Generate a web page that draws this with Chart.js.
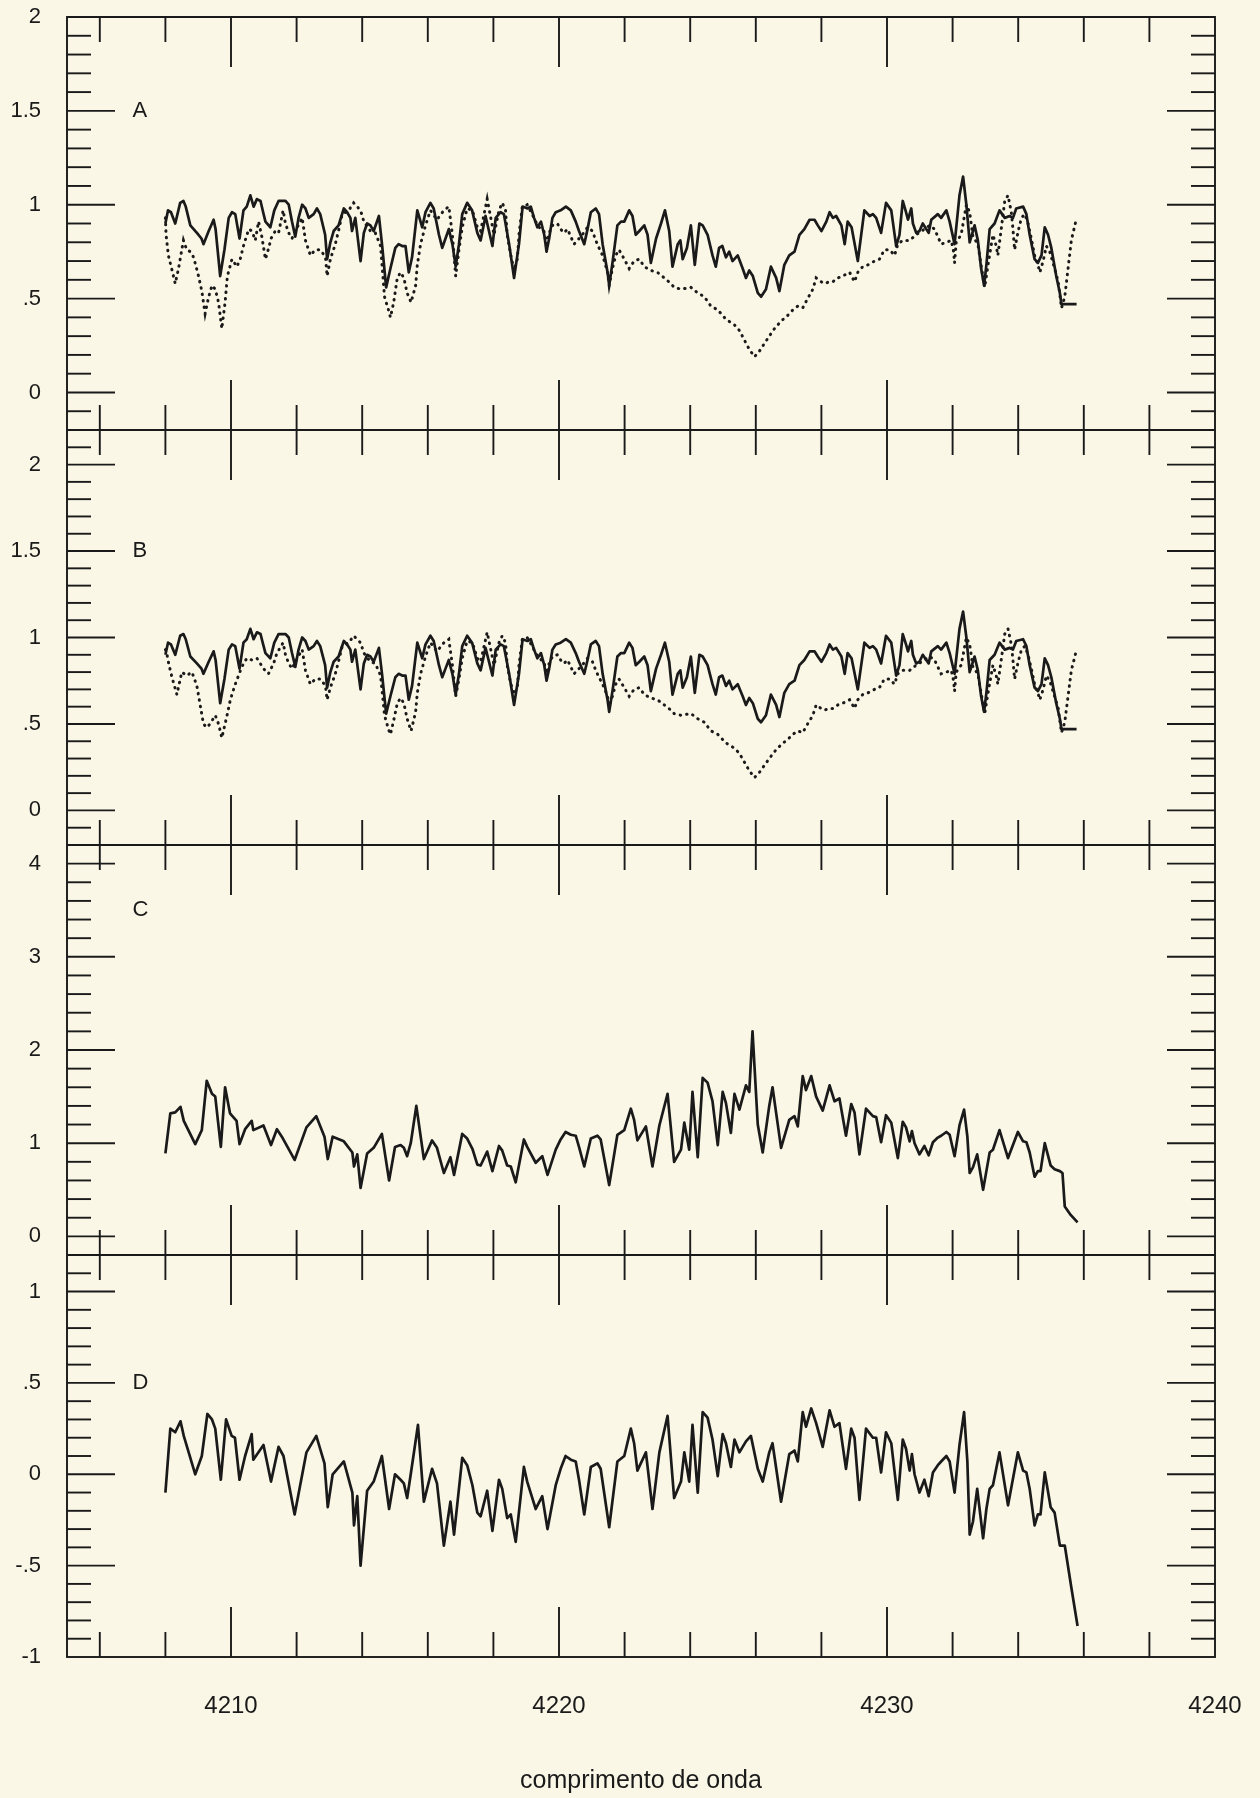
<!DOCTYPE html>
<html>
<head>
<meta charset="utf-8">
<script src="https://cdn.jsdelivr.net/npm/chart.js@4/dist/chart.umd.min.js"></script>
<style>
  html, body { margin: 0; padding: 0; background: #faf7e6; }
  canvas { display: block; }
</style>
</head>
<body>
<canvas id="spectra" width="1260" height="1798"></canvas>
<script>
// ---- Panel A: observed spectrum (solid) and model (dotted) ----
const waveA = [4208.00,4208.08,4208.17,4208.30,4208.45,4208.55,4208.62,4208.76,4208.96,4209.10,4209.16,4209.32,4209.47,4209.53,4209.67,4209.80,4209.93,4210.03,4210.13,4210.26,4210.38,4210.48,4210.59,4210.69,4210.79,4210.90,4210.98,4211.05,4211.20,4211.32,4211.45,4211.55,4211.66,4211.76,4211.86,4211.96,4212.06,4212.17,4212.27,4212.37,4212.52,4212.62,4212.72,4212.87,4212.93,4213.03,4213.13,4213.28,4213.44,4213.54,4213.64,4213.69,4213.79,4213.95,4214.05,4214.15,4214.25,4214.35,4214.51,4214.61,4214.73,4214.86,4215.01,4215.11,4215.22,4215.32,4215.42,4215.52,4215.68,4215.83,4215.93,4216.08,4216.18,4216.34,4216.44,4216.54,4216.64,4216.75,4216.85,4216.95,4217.05,4217.20,4217.35,4217.51,4217.61,4217.76,4217.97,4218.07,4218.22,4218.32,4218.48,4218.63,4218.78,4218.89,4219.04,4219.14,4219.24,4219.34,4219.45,4219.55,4219.62,4219.70,4219.80,4219.90,4220.05,4220.21,4220.36,4220.51,4220.61,4220.77,4220.87,4220.97,4221.12,4221.22,4221.33,4221.48,4221.53,4221.63,4221.78,4221.89,4221.99,4222.14,4222.24,4222.34,4222.45,4222.60,4222.70,4222.80,4222.96,4223.11,4223.23,4223.36,4223.46,4223.62,4223.70,4223.77,4223.90,4224.02,4224.14,4224.28,4224.38,4224.53,4224.68,4224.78,4224.88,4224.98,4225.09,4225.19,4225.29,4225.45,4225.60,4225.70,4225.80,4225.91,4226.06,4226.16,4226.31,4226.46,4226.62,4226.72,4226.87,4227.02,4227.18,4227.33,4227.48,4227.64,4227.79,4227.89,4228.00,4228.15,4228.25,4228.35,4228.45,4228.61,4228.71,4228.80,4228.92,4229.11,4229.31,4229.47,4229.57,4229.67,4229.82,4229.97,4230.13,4230.28,4230.38,4230.48,4230.58,4230.64,4230.74,4230.79,4230.89,4230.99,4231.09,4231.27,4231.35,4231.55,4231.65,4231.81,4231.91,4232.06,4232.21,4232.32,4232.42,4232.52,4232.67,4232.77,4232.87,4232.96,4233.03,4233.13,4233.28,4233.43,4233.59,4233.74,4233.84,4233.94,4234.15,4234.25,4234.35,4234.50,4234.60,4234.71,4234.81,4234.91,4235.01,4235.16,4235.27,4235.32,4235.78];
const fluxA = [0.90,0.97,0.96,0.90,1.01,1.02,0.99,0.89,0.85,0.82,0.79,0.86,0.92,0.87,0.62,0.76,0.93,0.96,0.95,0.82,0.97,0.99,1.05,0.99,1.03,1.02,0.96,0.91,0.88,0.97,1.02,1.02,1.02,1.00,0.91,0.83,0.93,1.00,0.98,0.93,0.95,0.98,0.95,0.84,0.71,0.80,0.86,0.89,0.98,0.96,0.93,0.86,0.93,0.70,0.85,0.90,0.89,0.86,0.94,0.78,0.56,0.66,0.77,0.79,0.78,0.78,0.64,0.72,0.97,0.88,0.96,1.01,0.98,0.84,0.77,0.82,0.87,0.79,0.67,0.79,0.95,1.01,0.97,0.85,0.81,0.94,0.78,0.93,0.96,0.95,0.79,0.61,0.79,0.99,0.98,0.99,0.93,0.88,0.91,0.84,0.75,0.82,0.93,0.96,0.97,0.99,0.97,0.91,0.86,0.79,0.87,0.96,0.98,0.95,0.79,0.64,0.57,0.69,0.89,0.91,0.91,0.97,0.94,0.84,0.86,0.89,0.84,0.69,0.82,0.90,0.97,0.86,0.67,0.79,0.81,0.71,0.77,0.89,0.68,0.90,0.89,0.84,0.73,0.67,0.77,0.78,0.72,0.75,0.70,0.73,0.66,0.61,0.65,0.62,0.53,0.51,0.55,0.67,0.61,0.54,0.68,0.73,0.75,0.84,0.87,0.92,0.92,0.89,0.86,0.91,0.96,0.93,0.94,0.89,0.79,0.91,0.88,0.70,0.97,0.94,0.95,0.93,0.85,1.01,0.97,0.78,0.84,1.02,0.96,0.92,0.98,0.90,0.85,0.86,0.90,0.85,0.92,0.95,0.93,0.97,0.91,0.79,1.05,1.15,1.00,0.80,0.89,0.81,0.66,0.57,0.68,0.87,0.90,0.97,0.93,0.94,0.93,0.98,0.99,0.95,0.84,0.71,0.69,0.73,0.88,0.84,0.77,0.62,0.53,0.47,0.47];

const waveAd = [4208.00,4208.02,4208.09,4208.19,4208.30,4208.40,4208.50,4208.55,4208.65,4208.76,4208.86,4209.01,4209.11,4209.21,4209.32,4209.42,4209.52,4209.62,4209.72,4209.82,4209.89,4210.03,4210.18,4210.28,4210.38,4210.54,4210.64,4210.74,4210.84,4210.94,4211.05,4211.15,4211.22,4211.35,4211.45,4211.59,4211.66,4211.76,4211.86,4212.02,4212.17,4212.27,4212.42,4212.57,4212.73,4212.88,4212.93,4213.03,4213.18,4213.29,4213.39,4213.59,4213.74,4213.95,4214.05,4214.25,4214.40,4214.56,4214.68,4214.80,4214.86,4214.96,4215.07,4215.17,4215.27,4215.37,4215.49,4215.63,4215.68,4215.78,4215.93,4216.08,4216.28,4216.49,4216.64,4216.75,4216.85,4216.95,4217.05,4217.20,4217.36,4217.51,4217.61,4217.81,4217.92,4218.02,4218.17,4218.27,4218.37,4218.42,4218.52,4218.63,4218.73,4218.78,4218.88,4219.03,4219.18,4219.29,4219.39,4219.54,4219.62,4219.70,4219.80,4219.95,4220.05,4220.15,4220.26,4220.36,4220.46,4220.61,4220.71,4220.87,4221.02,4221.12,4221.22,4221.33,4221.48,4221.53,4221.63,4221.73,4221.83,4221.99,4222.14,4222.29,4222.45,4222.60,4222.80,4223.00,4223.21,4223.41,4223.51,4223.72,4224.02,4224.23,4224.43,4224.63,4224.84,4225.09,4225.35,4225.50,4225.65,4225.80,4225.96,4226.11,4226.26,4226.41,4226.57,4226.77,4226.97,4227.13,4227.28,4227.43,4227.58,4227.74,4227.84,4227.99,4228.09,4228.25,4228.35,4228.50,4228.65,4228.86,4229.01,4229.11,4229.26,4229.42,4229.62,4229.77,4229.92,4230.08,4230.23,4230.33,4230.48,4230.69,4230.89,4231.14,4231.30,4231.45,4231.65,4231.81,4231.96,4232.03,4232.06,4232.11,4232.26,4232.42,4232.52,4232.62,4232.77,4232.93,4232.98,4233.08,4233.23,4233.33,4233.38,4233.49,4233.59,4233.69,4233.79,4233.84,4233.89,4234.00,4234.10,4234.20,4234.30,4234.40,4234.50,4234.60,4234.66,4234.76,4234.86,4234.96,4235.11,4235.22,4235.32,4235.42,4235.52,4235.62,4235.78];
const fluxAd = [0.93,0.84,0.73,0.66,0.58,0.66,0.76,0.81,0.76,0.75,0.72,0.62,0.54,0.42,0.51,0.57,0.55,0.48,0.34,0.48,0.62,0.71,0.67,0.71,0.78,0.87,0.86,0.81,0.91,0.83,0.71,0.77,0.82,0.86,0.85,0.97,0.90,0.85,0.82,0.88,0.93,0.81,0.73,0.76,0.76,0.72,0.62,0.71,0.79,0.87,0.95,0.97,1.01,0.97,0.91,0.86,0.85,0.78,0.51,0.44,0.40,0.48,0.61,0.64,0.61,0.53,0.48,0.57,0.68,0.79,0.89,0.97,0.92,0.97,0.99,0.84,0.62,0.76,0.88,0.98,0.97,0.88,0.86,1.03,0.93,0.84,0.97,1.01,0.97,0.84,0.74,0.65,0.71,0.84,0.99,1.00,0.95,0.91,0.88,0.86,0.79,0.85,0.89,0.90,0.87,0.85,0.87,0.83,0.79,0.82,0.84,0.88,0.86,0.81,0.77,0.73,0.64,0.57,0.66,0.73,0.76,0.71,0.66,0.70,0.71,0.67,0.65,0.64,0.61,0.58,0.56,0.55,0.56,0.53,0.51,0.46,0.44,0.39,0.36,0.33,0.28,0.23,0.19,0.22,0.26,0.30,0.34,0.38,0.41,0.44,0.46,0.45,0.50,0.55,0.61,0.59,0.58,0.59,0.59,0.61,0.62,0.64,0.59,0.64,0.67,0.68,0.70,0.71,0.76,0.76,0.73,0.79,0.81,0.81,0.84,0.87,0.89,0.87,0.79,0.80,0.81,0.75,0.69,0.80,0.84,1.00,0.96,0.83,0.79,0.61,0.56,0.68,0.84,0.78,0.73,0.88,1.02,1.05,0.96,0.87,0.76,0.86,0.93,0.95,0.90,0.82,0.73,0.68,0.64,0.70,0.78,0.75,0.66,0.59,0.45,0.51,0.66,0.81,0.93];

// ---- Panel B: same observed spectrum, second model (dotted) ----
const waveB = [4208.00,4208.08,4208.17,4208.30,4208.45,4208.55,4208.62,4208.76,4208.96,4209.10,4209.16,4209.32,4209.47,4209.53,4209.67,4209.80,4209.93,4210.03,4210.13,4210.26,4210.38,4210.48,4210.59,4210.69,4210.79,4210.90,4210.98,4211.05,4211.20,4211.32,4211.45,4211.55,4211.66,4211.76,4211.86,4211.96,4212.06,4212.17,4212.27,4212.37,4212.52,4212.62,4212.72,4212.87,4212.93,4213.03,4213.13,4213.28,4213.44,4213.54,4213.64,4213.69,4213.79,4213.95,4214.05,4214.15,4214.25,4214.35,4214.51,4214.61,4214.73,4214.86,4215.01,4215.11,4215.22,4215.32,4215.42,4215.52,4215.68,4215.83,4215.93,4216.08,4216.18,4216.34,4216.44,4216.54,4216.64,4216.75,4216.85,4216.95,4217.05,4217.20,4217.35,4217.51,4217.61,4217.76,4217.97,4218.07,4218.22,4218.32,4218.48,4218.63,4218.78,4218.89,4219.04,4219.14,4219.24,4219.34,4219.45,4219.55,4219.62,4219.70,4219.80,4219.90,4220.05,4220.21,4220.36,4220.51,4220.61,4220.77,4220.87,4220.97,4221.12,4221.22,4221.33,4221.48,4221.53,4221.63,4221.78,4221.89,4221.99,4222.14,4222.24,4222.34,4222.45,4222.60,4222.70,4222.80,4222.96,4223.11,4223.23,4223.36,4223.46,4223.62,4223.70,4223.77,4223.90,4224.02,4224.14,4224.28,4224.38,4224.53,4224.68,4224.78,4224.88,4224.98,4225.09,4225.19,4225.29,4225.45,4225.60,4225.70,4225.80,4225.91,4226.06,4226.16,4226.31,4226.46,4226.62,4226.72,4226.87,4227.02,4227.18,4227.33,4227.48,4227.64,4227.79,4227.89,4228.00,4228.15,4228.25,4228.35,4228.45,4228.61,4228.71,4228.80,4228.92,4229.11,4229.31,4229.47,4229.57,4229.67,4229.82,4229.97,4230.13,4230.28,4230.38,4230.48,4230.58,4230.64,4230.74,4230.79,4230.89,4230.99,4231.09,4231.27,4231.35,4231.55,4231.65,4231.81,4231.91,4232.06,4232.21,4232.32,4232.42,4232.52,4232.67,4232.77,4232.87,4232.96,4233.03,4233.13,4233.28,4233.43,4233.59,4233.74,4233.84,4233.94,4234.15,4234.25,4234.35,4234.50,4234.60,4234.71,4234.81,4234.91,4235.01,4235.16,4235.27,4235.32,4235.78];
const fluxB = [0.90,0.97,0.96,0.90,1.01,1.02,0.99,0.89,0.85,0.82,0.79,0.86,0.92,0.87,0.62,0.76,0.93,0.96,0.95,0.82,0.97,0.99,1.05,0.99,1.03,1.02,0.96,0.91,0.88,0.97,1.02,1.02,1.02,1.00,0.91,0.83,0.93,1.00,0.98,0.93,0.95,0.98,0.95,0.84,0.71,0.80,0.86,0.89,0.98,0.96,0.93,0.86,0.93,0.70,0.85,0.90,0.89,0.86,0.94,0.78,0.56,0.66,0.77,0.79,0.78,0.78,0.64,0.72,0.97,0.88,0.96,1.01,0.98,0.84,0.77,0.82,0.87,0.79,0.67,0.79,0.95,1.01,0.97,0.85,0.81,0.94,0.78,0.93,0.96,0.95,0.79,0.61,0.79,0.99,0.98,0.99,0.93,0.88,0.91,0.84,0.75,0.82,0.93,0.96,0.97,0.99,0.97,0.91,0.86,0.79,0.87,0.96,0.98,0.95,0.79,0.64,0.57,0.69,0.89,0.91,0.91,0.97,0.94,0.84,0.86,0.89,0.84,0.69,0.82,0.90,0.97,0.86,0.67,0.79,0.81,0.71,0.77,0.89,0.68,0.90,0.89,0.84,0.73,0.67,0.77,0.78,0.72,0.75,0.70,0.73,0.66,0.61,0.65,0.62,0.53,0.51,0.55,0.67,0.61,0.54,0.68,0.73,0.75,0.84,0.87,0.92,0.92,0.89,0.86,0.91,0.96,0.93,0.94,0.89,0.79,0.91,0.88,0.70,0.97,0.94,0.95,0.93,0.85,1.01,0.97,0.78,0.84,1.02,0.96,0.92,0.98,0.90,0.85,0.86,0.90,0.85,0.92,0.95,0.93,0.97,0.91,0.79,1.05,1.15,1.00,0.80,0.89,0.81,0.66,0.57,0.68,0.87,0.90,0.97,0.93,0.94,0.93,0.98,0.99,0.95,0.84,0.71,0.69,0.73,0.88,0.84,0.77,0.62,0.53,0.47,0.47];

const waveBd = [4208.00,4208.05,4208.10,4208.20,4208.35,4208.50,4208.65,4208.81,4208.96,4209.06,4209.16,4209.26,4209.36,4209.52,4209.62,4209.72,4209.88,4209.98,4210.13,4210.33,4210.48,4210.64,4210.79,4210.99,4211.14,4211.30,4211.40,4211.59,4211.66,4211.76,4211.86,4212.02,4212.17,4212.27,4212.42,4212.57,4212.73,4212.88,4212.93,4213.03,4213.18,4213.29,4213.39,4213.59,4213.74,4213.95,4214.05,4214.25,4214.40,4214.56,4214.68,4214.80,4214.86,4214.96,4215.07,4215.17,4215.27,4215.37,4215.49,4215.63,4215.68,4215.78,4215.93,4216.08,4216.28,4216.49,4216.64,4216.75,4216.85,4216.95,4217.05,4217.20,4217.36,4217.51,4217.61,4217.81,4217.92,4218.02,4218.17,4218.27,4218.37,4218.42,4218.52,4218.63,4218.73,4218.78,4218.88,4219.03,4219.18,4219.29,4219.39,4219.54,4219.62,4219.70,4219.80,4219.95,4220.05,4220.15,4220.26,4220.36,4220.46,4220.61,4220.71,4220.87,4221.02,4221.12,4221.22,4221.33,4221.48,4221.53,4221.63,4221.73,4221.83,4221.99,4222.14,4222.29,4222.45,4222.60,4222.80,4223.00,4223.21,4223.41,4223.51,4223.72,4224.02,4224.23,4224.43,4224.63,4224.84,4225.09,4225.35,4225.50,4225.65,4225.80,4225.96,4226.11,4226.26,4226.41,4226.57,4226.77,4226.97,4227.13,4227.28,4227.43,4227.58,4227.74,4227.84,4227.99,4228.09,4228.25,4228.35,4228.50,4228.65,4228.86,4229.01,4229.11,4229.26,4229.42,4229.62,4229.77,4229.92,4230.08,4230.23,4230.33,4230.48,4230.69,4230.89,4231.14,4231.30,4231.45,4231.65,4231.81,4231.96,4232.03,4232.06,4232.11,4232.26,4232.42,4232.52,4232.62,4232.77,4232.93,4232.98,4233.08,4233.23,4233.33,4233.38,4233.49,4233.59,4233.69,4233.79,4233.84,4233.89,4234.00,4234.10,4234.20,4234.30,4234.40,4234.50,4234.60,4234.66,4234.76,4234.86,4234.96,4235.11,4235.22,4235.32,4235.42,4235.52,4235.62,4235.78];
const fluxBd = [0.93,0.90,0.85,0.77,0.67,0.80,0.78,0.80,0.72,0.61,0.50,0.48,0.50,0.55,0.50,0.42,0.55,0.64,0.73,0.83,0.88,0.87,0.88,0.82,0.79,0.85,0.91,0.97,0.90,0.85,0.82,0.88,0.93,0.81,0.73,0.76,0.76,0.72,0.64,0.71,0.79,0.87,0.95,0.97,1.01,0.97,0.91,0.86,0.85,0.78,0.55,0.47,0.44,0.52,0.62,0.65,0.62,0.53,0.46,0.57,0.68,0.79,0.89,0.97,0.92,0.97,0.99,0.84,0.66,0.76,0.88,0.98,0.97,0.88,0.86,1.03,0.93,0.84,0.97,1.01,0.97,0.84,0.74,0.67,0.71,0.84,0.99,1.00,0.95,0.91,0.88,0.86,0.79,0.85,0.89,0.90,0.87,0.85,0.87,0.83,0.79,0.82,0.84,0.88,0.86,0.81,0.77,0.73,0.66,0.60,0.66,0.73,0.76,0.71,0.66,0.70,0.71,0.67,0.65,0.64,0.61,0.58,0.56,0.55,0.56,0.53,0.51,0.46,0.44,0.39,0.36,0.33,0.28,0.23,0.19,0.22,0.26,0.30,0.34,0.38,0.41,0.44,0.46,0.45,0.50,0.55,0.61,0.59,0.58,0.59,0.59,0.61,0.62,0.64,0.59,0.64,0.67,0.68,0.70,0.71,0.76,0.76,0.73,0.79,0.81,0.81,0.84,0.87,0.89,0.87,0.79,0.80,0.81,0.75,0.69,0.80,0.84,1.00,0.96,0.83,0.79,0.61,0.56,0.68,0.84,0.78,0.73,0.88,1.02,1.05,0.96,0.87,0.76,0.86,0.93,0.95,0.90,0.82,0.73,0.68,0.64,0.70,0.78,0.75,0.66,0.59,0.45,0.51,0.66,0.81,0.93];

// ---- Panel C ----
const waveC = [4208.00,4208.15,4208.30,4208.46,4208.56,4208.91,4209.11,4209.26,4209.42,4209.52,4209.69,4209.82,4209.97,4210.17,4210.26,4210.43,4210.63,4210.68,4210.99,4211.22,4211.40,4211.55,4211.94,4212.30,4212.60,4212.85,4212.95,4213.10,4213.44,4213.70,4213.75,4213.85,4213.95,4214.15,4214.35,4214.60,4214.82,4215.00,4215.17,4215.27,4215.37,4215.48,4215.65,4215.88,4216.13,4216.28,4216.49,4216.69,4216.80,4217.05,4217.20,4217.36,4217.51,4217.61,4217.81,4217.97,4218.17,4218.27,4218.42,4218.53,4218.68,4218.93,4219.03,4219.29,4219.49,4219.65,4219.90,4220.05,4220.20,4220.36,4220.51,4220.61,4220.77,4220.97,4221.17,4221.27,4221.53,4221.78,4221.99,4222.19,4222.29,4222.39,4222.65,4222.85,4223.06,4223.31,4223.51,4223.72,4223.82,4223.97,4224.07,4224.23,4224.38,4224.53,4224.68,4224.84,4224.99,4225.09,4225.24,4225.35,4225.50,4225.70,4225.80,4225.90,4226.06,4226.21,4226.41,4226.51,4226.77,4227.02,4227.18,4227.28,4227.43,4227.53,4227.69,4227.84,4228.04,4228.25,4228.40,4228.55,4228.75,4228.91,4229.01,4229.16,4229.36,4229.57,4229.67,4229.82,4229.97,4230.13,4230.33,4230.48,4230.58,4230.69,4230.76,4230.84,4230.99,4231.14,4231.27,4231.40,4231.55,4231.65,4231.81,4231.91,4232.06,4232.21,4232.35,4232.45,4232.52,4232.62,4232.75,4232.93,4233.03,4233.13,4233.23,4233.43,4233.69,4233.99,4234.15,4234.25,4234.35,4234.50,4234.60,4234.68,4234.81,4234.99,4235.11,4235.27,4235.35,4235.42,4235.60,4235.81];
const fluxC = [0.89,1.32,1.33,1.39,1.24,0.99,1.14,1.67,1.53,1.50,0.96,1.60,1.32,1.24,0.99,1.15,1.24,1.14,1.19,0.98,1.15,1.07,0.82,1.17,1.29,1.07,0.83,1.07,1.02,0.90,0.75,0.88,0.52,0.89,0.95,1.10,0.60,0.96,0.98,0.95,0.86,1.00,1.40,0.83,1.03,0.95,0.68,0.85,0.66,1.10,1.05,0.94,0.77,0.76,0.91,0.70,0.97,0.92,0.76,0.75,0.58,1.04,0.96,0.79,0.86,0.66,0.93,1.04,1.12,1.09,1.08,0.96,0.75,1.05,1.08,1.04,0.55,1.09,1.14,1.37,1.25,1.03,1.18,0.75,1.19,1.53,0.80,0.93,1.22,0.93,1.55,0.85,1.70,1.65,1.45,0.98,1.55,1.43,1.11,1.53,1.36,1.62,1.55,2.20,1.20,0.90,1.40,1.60,0.95,1.25,1.29,1.18,1.72,1.57,1.72,1.50,1.35,1.62,1.45,1.48,1.08,1.42,1.33,0.88,1.37,1.29,1.28,1.01,1.30,1.22,0.84,1.23,1.17,1.02,1.13,1.00,0.88,0.97,0.87,1.01,1.06,1.08,1.12,1.09,0.86,1.19,1.36,1.07,0.68,0.74,0.88,0.50,0.70,0.90,0.93,1.14,0.84,1.12,1.02,1.01,0.90,0.64,0.70,0.70,1.00,0.76,0.72,0.70,0.68,0.32,0.23,0.15];

// ---- Panel D ----
const waveD = [4208.00,4208.15,4208.30,4208.46,4208.56,4208.91,4209.11,4209.28,4209.42,4209.52,4209.69,4209.85,4210.02,4210.12,4210.26,4210.43,4210.63,4210.68,4210.99,4211.22,4211.45,4211.60,4211.94,4212.30,4212.60,4212.85,4212.95,4213.10,4213.44,4213.70,4213.75,4213.85,4213.95,4214.15,4214.35,4214.60,4214.82,4215.00,4215.17,4215.27,4215.37,4215.48,4215.70,4215.88,4216.13,4216.28,4216.49,4216.69,4216.80,4217.05,4217.20,4217.36,4217.51,4217.61,4217.81,4217.97,4218.17,4218.27,4218.42,4218.53,4218.68,4218.93,4219.03,4219.29,4219.49,4219.65,4219.90,4220.05,4220.20,4220.36,4220.51,4220.61,4220.77,4220.97,4221.17,4221.27,4221.53,4221.78,4221.99,4222.19,4222.29,4222.39,4222.65,4222.85,4223.06,4223.31,4223.51,4223.72,4223.82,4223.97,4224.07,4224.23,4224.38,4224.53,4224.68,4224.84,4224.99,4225.09,4225.24,4225.35,4225.50,4225.70,4225.85,4226.06,4226.21,4226.41,4226.51,4226.77,4227.02,4227.18,4227.28,4227.43,4227.53,4227.69,4227.84,4228.04,4228.25,4228.40,4228.55,4228.75,4228.91,4229.01,4229.16,4229.36,4229.57,4229.67,4229.82,4229.97,4230.13,4230.33,4230.48,4230.58,4230.69,4230.76,4230.84,4230.99,4231.14,4231.27,4231.40,4231.55,4231.65,4231.81,4231.91,4232.06,4232.21,4232.35,4232.45,4232.52,4232.62,4232.75,4232.93,4233.03,4233.13,4233.23,4233.43,4233.69,4233.99,4234.15,4234.25,4234.35,4234.50,4234.60,4234.68,4234.81,4234.99,4235.11,4235.27,4235.42,4235.62,4235.81];
const fluxD = [-0.10,0.25,0.23,0.29,0.21,0.00,0.10,0.33,0.30,0.25,-0.03,0.30,0.21,0.20,-0.03,0.10,0.22,0.08,0.16,-0.04,0.15,0.10,-0.22,0.12,0.21,0.06,-0.18,0.00,0.07,-0.10,-0.28,-0.12,-0.50,-0.09,-0.04,0.10,-0.19,0.00,-0.03,-0.05,-0.13,0.00,0.27,-0.15,0.03,-0.05,-0.39,-0.15,-0.33,0.09,0.05,-0.06,-0.21,-0.23,-0.09,-0.31,-0.03,-0.08,-0.24,-0.22,-0.37,0.04,-0.04,-0.19,-0.12,-0.30,-0.06,0.03,0.10,0.08,0.07,-0.03,-0.22,0.04,0.06,0.03,-0.29,0.07,0.10,0.25,0.17,0.02,0.12,-0.19,0.12,0.32,-0.13,-0.04,0.12,-0.04,0.27,-0.10,0.34,0.31,0.19,-0.01,0.22,0.17,0.04,0.19,0.12,0.18,0.21,0.03,-0.04,0.12,0.17,-0.15,0.11,0.13,0.07,0.34,0.26,0.36,0.28,0.15,0.35,0.26,0.28,0.03,0.25,0.20,-0.14,0.25,0.20,0.20,0.01,0.23,0.17,-0.14,0.19,0.14,0.02,0.11,0.00,-0.10,-0.03,-0.12,0.01,0.05,0.07,0.10,0.07,-0.10,0.16,0.34,0.07,-0.33,-0.26,-0.08,-0.35,-0.19,-0.08,-0.06,0.12,-0.17,0.12,0.02,0.01,-0.08,-0.28,-0.22,-0.22,0.01,-0.18,-0.21,-0.39,-0.39,-0.62,-0.83];

// ---- Axes ----
const panelIds   = ['yA', 'yB', 'yC', 'yD'];
const panelNames = ['A', 'B', 'C', 'D'];
const panelMin   = [-0.2, -0.2, -0.2, -1];
const panelMax   = [2, 2.2, 4.2, 1.2];
const majorStep  = [0.5, 0.5, 1, 0.5];
const minorStep  = [0.1, 0.1, 0.2, 0.1];
const nameLevel  = [1.5, 1.5, 3.5, 0.5];
const panelWeight = [413, 415, 410, 402];
const waveMin = 4205, waveMax = 4240, waveLabelStep = 10, waveTickStep = 2;
const xTitle = 'comprimento de onda';

const INK = '#1a1a1a';
const FONT = "'Liberation Sans', Arial, Helvetica, sans-serif";

const toPoints = (w, f) => w.map((x, i) => ({ x, y: f[i] }));
const fmtTick = v => {
  const s = String(Math.round(v * 100) / 100);
  return s.replace(/^(-?)0\./, '$1.');
};

// frame, separators, inward ticks on every panel and the panel letters
const frameTicks = {
  id: 'frameTicks',
  beforeDatasetsDraw(chart) {
    const { ctx, chartArea: ca, scales } = chart;
    const xs = scales.x;
    const seg = (x1, y1, x2, y2) => { ctx.beginPath(); ctx.moveTo(x1, y1); ctx.lineTo(x2, y2); ctx.stroke(); };
    ctx.save();
    ctx.strokeStyle = INK;
    ctx.lineWidth = 1.9;
    ctx.strokeRect(ca.left, ca.top, ca.right - ca.left, ca.bottom - ca.top);
    panelIds.forEach((id, p) => {
      const ys = scales[id];
      const top = ys.top, bottom = ys.bottom;
      seg(ca.left, top, ca.right, top);
      // wavelength ticks along top and bottom edges
      for (let w = waveMin + 1; w < waveMax; w += waveTickStep) {
        const px = xs.getPixelForValue(w);
        const len = (w % waveLabelStep === 0) ? 50 : 25;
        seg(px, top, px, top + len);
        seg(px, bottom, px, bottom - len);
      }
      // value ticks on left and right edges
      const n = Math.round((panelMax[p] - panelMin[p]) / minorStep[p]);
      for (let i = 1; i < n; i++) {
        const v = panelMin[p] + i * minorStep[p];
        const r = v / majorStep[p];
        const major = Math.abs(r - Math.round(r)) < 1e-6;
        const py = ys.getPixelForValue(v);
        const len = major ? 48 : 24;
        seg(ca.left, py, ca.left + len, py);
        seg(ca.right, py, ca.right - len, py);
      }
      ctx.fillStyle = INK;
      ctx.font = '22px ' + FONT;
      ctx.textAlign = 'left';
      ctx.textBaseline = 'middle';
      ctx.fillText(panelNames[p], xs.getPixelForValue(4207.0), ys.getPixelForValue(nameLevel[p]));
    });
    ctx.restore();
  }
};

const solidStyle = { borderColor: INK, borderWidth: 2.7, pointRadius: 0, tension: 0, fill: false, borderJoinStyle: 'round' };
const dottedStyle = { borderColor: INK, borderWidth: 3, pointRadius: 0, tension: 0, fill: false, borderDash: [0.5, 6], borderCapStyle: 'round' };

const yScale = (p) => ({
  type: 'linear',
  position: 'left',
  stack: 'panels',
  stackWeight: panelWeight[p],
  weight: 4 - p,
  min: panelMin[p],
  max: panelMax[p],
  grid: { display: false, drawTicks: false },
  border: { display: false },
  ticks: {
    stepSize: majorStep[p], includeBounds: false, autoSkip: false,
    padding: 26, color: INK, font: { family: FONT, size: 22 },
    callback: v => fmtTick(v)
  },
  afterFit: s => { s.width = 67; s.paddingTop = 0; s.paddingBottom = 0; }
});

new Chart(document.getElementById('spectra'), {
  type: 'line',
  data: {
    datasets: [
      { ...dottedStyle, data: toPoints(waveAd, fluxAd), yAxisID: 'yA' },
      { ...solidStyle,  data: toPoints(waveA, fluxA),   yAxisID: 'yA' },
      { ...dottedStyle, data: toPoints(waveBd, fluxBd), yAxisID: 'yB' },
      { ...solidStyle,  data: toPoints(waveB, fluxB),   yAxisID: 'yB' },
      { ...solidStyle,  data: toPoints(waveC, fluxC),   yAxisID: 'yC' },
      { ...solidStyle,  data: toPoints(waveD, fluxD),   yAxisID: 'yD' }
    ]
  },
  options: {
    responsive: false,
    animation: false,
    devicePixelRatio: 1,
    layout: { padding: { left: 0, top: 17, right: 45, bottom: 0 } },
    plugins: { legend: { display: false }, tooltip: { enabled: false } },
    scales: {
      x: {
        type: 'linear', position: 'bottom', min: waveMin, max: waveMax,
        grid: { display: false, drawTicks: false },
        border: { display: false },
        ticks: { stepSize: waveLabelStep, includeBounds: false, autoSkip: false, maxRotation: 0,
                 padding: 35, color: INK, font: { family: FONT, size: 24 }, callback: v => String(v) },
        title: { display: true, text: xTitle, color: INK, font: { family: FONT, size: 25 }, padding: { top: 0, bottom: 2 } },
        afterFit: s => { s.height = 141; s.paddingLeft = 0; s.paddingRight = 0; }
      },
      yA: yScale(0),
      yB: yScale(1),
      yC: yScale(2),
      yD: yScale(3)
    }
  },
  plugins: [frameTicks]
});
</script>
</body>
</html>
